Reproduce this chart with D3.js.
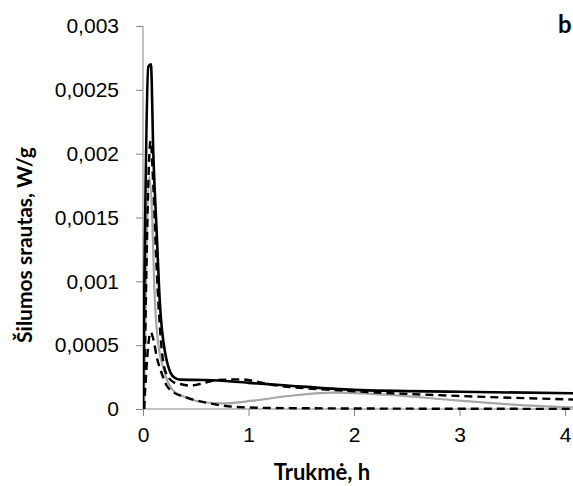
<!DOCTYPE html>
<html>
<head>
<meta charset="utf-8">
<script src="https://cdn.jsdelivr.net/npm/d3@7"></script>
<style>
  body { margin: 0; background: white; }
  svg { display: block; font-family: Lato, "Open Sans", sans-serif; }
</style>
</head>
<body>
<div id="container"></div>
<script>
/* CONSTANTS AND GLOBALS */
const width = 573,
  height = 486;

const plotLeft = 143, plotRight = 565, plotTop = 26, plotBottom = 409;

/* DATA */
const xTicks = [0, 1, 2, 3, 4];
const yTicks = [0, 0.0005, 0.001, 0.0015, 0.002, 0.0025, 0.003];

// solid black
const tSolid = [0, 0.05, 0.075, 0.098, 0.13, 0.16, 0.21, 0.29, 0.35, 0.6, 1.0, 1.3, 2.0, 3.0, 4.1];
const vSolid = [0, 0.00268, 0.0027, 0.002, 0.00138, 0.00083, 0.00044, 0.00025, 0.00023, 0.000227, 0.000205, 0.000188, 0.00015, 0.000135, 0.000123];

// upper dashed
const tDash1 = [0.01, 0.072, 0.098, 0.123, 0.155, 0.21, 0.29, 0.35, 0.45, 0.54, 0.7, 0.92, 1.23, 1.93, 3.0, 4.1];
const vDash1 = [0, 0.0021, 0.00174, 0.00122, 0.0007, 0.0003, 0.00021, 0.000196, 0.000183, 0.000196, 0.000227, 0.000232, 0.000188, 0.000143, 0.000102, 0.000074];

// grey solid
const tGrey = [0.01, 0.06, 0.088, 0.107, 0.136, 0.2, 0.28, 0.38, 0.54, 0.76, 1.04, 1.36, 1.8, 2.3, 2.94, 3.5, 4.1];
const vGrey = [0, 0.00182, 0.00148, 0.00096, 0.00057, 0.0003, 0.00015, 0.0001, 0.000057, 0.000044, 0.000065, 0.0001, 0.000128, 0.000112, 0.00007, 0.000035, 0.000012];

// lower dashed
const tDash2 = [0.01, 0.072, 0.1, 0.13, 0.177, 0.22, 0.28, 0.41, 0.6, 0.85, 1.23, 2, 3, 4.1];
const vDash2 = [0, 0.0006, 0.00054, 0.00041, 0.00028, 0.00019, 0.000136, 0.000091, 0.00005, 0.000018, 0.000008, 0.000004, 0.000002, 0.000001];

const zip = (t, v) => t.map((d, i) => ({ t: d, v: v[i] }));

const svg = d3.select("#container")
  .append("svg")
  .attr("width", width)
  .attr("height", height)
  .style("background-color", "white");

/* SCALES */
const xScale = d3.scaleLinear().domain([0, 4]).range([plotLeft, plotRight]);
const yScale = d3.scaleLinear().domain([0, 0.003]).range([plotBottom, plotTop]);

const fmt = d => String(d).replace(".", ",");

/* AXES */
const axisColor = "#868686";

const yAxis = svg.append("g")
  .attr("transform", `translate(${plotLeft},0)`)
  .call(d3.axisLeft(yScale).tickValues(yTicks).tickSize(7).tickPadding(17).tickFormat(fmt));

const xAxis = svg.append("g")
  .attr("transform", `translate(0,${plotBottom})`)
  .call(d3.axisBottom(xScale).tickValues(xTicks).tickSize(7).tickPadding(11).tickFormat(fmt));

[xAxis, yAxis].forEach(g => {
  g.selectAll("line").attr("stroke", axisColor);
  g.select(".domain").remove();
  g.selectAll("text").attr("fill", "#000").style("font-size", "21px");
});

svg.append("line")
  .attr("x1", plotLeft).attr("x2", plotLeft)
  .attr("y1", plotTop).attr("y2", plotBottom)
  .attr("stroke", axisColor);

svg.append("line")
  .attr("x1", plotLeft).attr("x2", width)
  .attr("y1", plotBottom).attr("y2", plotBottom)
  .attr("stroke", axisColor);

/* LINES */
svg.append("clipPath").attr("id", "clip")
  .append("rect").attr("x", plotLeft).attr("y", 0).attr("width", width - plotLeft).attr("height", plotBottom + 2);

const line = d3.line()
  .x(d => xScale(d.t))
  .y(d => yScale(d.v))
  .curve(d3.curveMonotoneX);

const series = [
  { data: zip(tGrey, vGrey), color: "#a6a6a6", w: 2.2, dash: null },
  { data: zip(tDash2, vDash2), color: "#000", w: 2.4, dash: "8,5" },
  { data: zip(tDash1, vDash1), color: "#000", w: 2.4, dash: "8,5" },
  { data: zip(tSolid, vSolid), color: "#000", w: 2.6, dash: null }
];

svg.append("g").attr("clip-path", "url(#clip)")
  .selectAll("path")
  .data(series)
  .join("path")
  .attr("d", d => line(d.data))
  .attr("fill", "none")
  .attr("stroke", d => d.color)
  .attr("stroke-width", d => d.w)
  .attr("stroke-dasharray", d => d.dash)
  .attr("stroke-linejoin", "round");

/* TITLES */
svg.append("text")
  .attr("x", 322)
  .attr("y", 480)
  .attr("text-anchor", "middle")
  .style("font-size", "22px")
  .style("font-weight", "bold")
  .text("Trukmė, h");

svg.append("text")
  .attr("transform", "translate(32,245) rotate(-90)")
  .attr("text-anchor", "middle")
  .style("font-size", "21px")
  .style("font-weight", "bold")
  .text("Šilumos srautas, W/g");

svg.append("text")
  .attr("x", 558)
  .attr("y", 33)
  .style("font-size", "24px")
  .style("font-weight", "bold")
  .text("b");
</script>
</body>
</html>
